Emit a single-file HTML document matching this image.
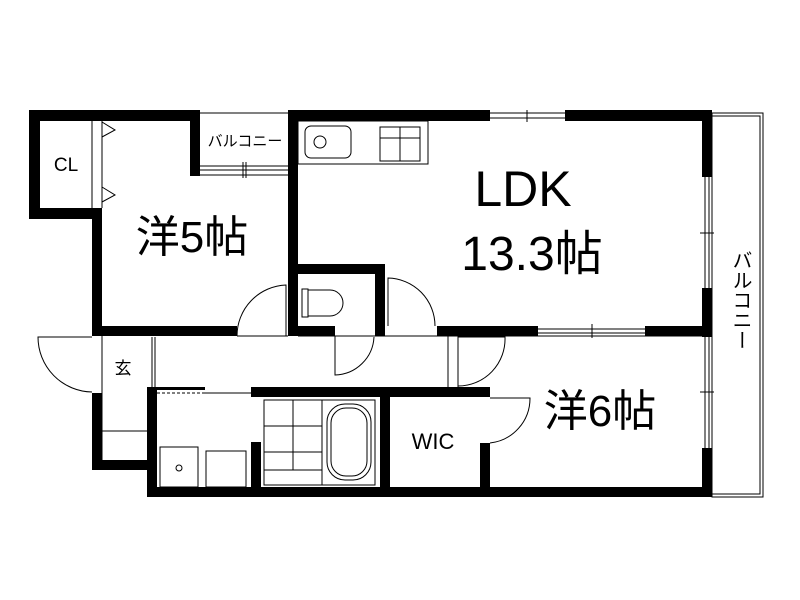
<!DOCTYPE html>
<html><head><meta charset="utf-8"><style>body{margin:0;background:#fff}svg{display:block}</style></head><body>
<svg width="800" height="600" viewBox="0 0 800 600" xmlns="http://www.w3.org/2000/svg" font-family="Liberation Sans, Noto Sans CJK JP, sans-serif">
<rect width="800" height="600" fill="#fff"/>
<g fill="none" stroke="#000" stroke-width="1">
<rect x="712" y="113" width="51" height="384"/><rect x="712" y="116" width="48" height="378"/>
<line x1="200" y1="113" x2="288" y2="113"/><line x1="200" y1="166" x2="288" y2="166"/><line x1="200" y1="170" x2="288" y2="170"/><line x1="200" y1="175" x2="288" y2="175"/>
<line x1="243" y1="162" x2="243" y2="178"/><line x1="246" y1="162" x2="246" y2="178"/>
<line x1="490" y1="113" x2="565" y2="113"/><line x1="490" y1="118" x2="565" y2="118"/><line x1="527" y1="110" x2="527" y2="122"/>
<line x1="705" y1="177" x2="705" y2="288"/><line x1="709" y1="177" x2="709" y2="288"/><line x1="700" y1="233" x2="714" y2="233"/>
<line x1="705" y1="337" x2="705" y2="448"/><line x1="709" y1="337" x2="709" y2="448"/><line x1="700" y1="392" x2="714" y2="392"/>
<line x1="538" y1="329" x2="645" y2="329"/><line x1="538" y1="333" x2="645" y2="333"/><line x1="592" y1="324" x2="592" y2="338"/>
<line x1="92" y1="121" x2="92" y2="208"/><line x1="102" y1="121" x2="102" y2="208"/>
<polyline points="102,122 115,130 102,137"/><polyline points="102,187 115,195 102,202"/>
<path d="M237 336 A51 51 0 0 1 286 285 L286 336"/>
<path d="M335 336 L335 375 A40 40 0 0 0 374 337"/>
<path d="M388 326 L388 278 A48 48 0 0 1 435 326"/>
<path d="M92 337 L38 337 A55 55 0 0 0 92 392"/>
<path d="M458 337 L505 337 A47 47 0 0 1 458 386"/>
<path d="M490 398 L530 398 A45 45 0 0 1 490 443"/>
<line x1="448" y1="336" x2="448" y2="387"/><line x1="458" y1="336" x2="458" y2="387"/>
<line x1="102" y1="336" x2="102" y2="470"/><line x1="102" y1="431" x2="147" y2="431"/>
<line x1="152" y1="337" x2="152" y2="387"/><line x1="155" y1="337" x2="155" y2="387"/>
<line x1="298" y1="336" x2="712" y2="336"/><line x1="385" y1="336" x2="437" y2="336"/><line x1="237" y1="336" x2="288" y2="336"/>
<line x1="157" y1="393" x2="205" y2="393" stroke-dasharray="3,2"/>
<line x1="205" y1="393" x2="251" y2="393"/>
<rect x="298" y="121" width="130" height="43"/>
<rect x="305" y="126" width="46" height="32" rx="6"/><circle cx="320" cy="142" r="6"/>
<rect x="380" y="127" width="40" height="34"/><line x1="380" y1="138" x2="420" y2="138"/><line x1="400" y1="127" x2="400" y2="161"/>
<rect x="302" y="289" width="6" height="28"/><path d="M308 290 H330 A13 13 0 0 1 330 316 H308"/>
<rect x="160" y="447" width="38" height="40"/><circle cx="179" cy="468" r="3"/>
<rect x="206" y="451" width="40" height="36"/>
<rect x="264" y="400" width="111" height="85"/><line x1="322" y1="400" x2="322" y2="485"/>
<line x1="264" y1="426" x2="322" y2="426"/><line x1="264" y1="452" x2="322" y2="452"/><line x1="293" y1="400" x2="293" y2="470"/>
<rect x="327" y="404" width="44" height="76" rx="18"/><rect x="331" y="408" width="36" height="68" rx="15"/>
<line x1="264" y1="470" x2="322" y2="470"/>
</g>
<g fill="#000">
<rect x="29" y="110" width="171" height="11"/>
<rect x="29" y="110" width="11" height="109"/>
<rect x="29" y="208" width="73" height="11"/>
<rect x="92" y="208" width="10" height="128"/>
<rect x="190" y="110" width="10" height="66"/>
<rect x="288" y="110" width="202" height="11"/>
<rect x="565" y="110" width="147" height="11"/>
<rect x="702" y="110" width="10" height="67"/>
<rect x="702" y="288" width="10" height="49"/>
<rect x="702" y="448" width="10" height="49"/>
<rect x="288" y="110" width="10" height="226"/>
<rect x="92" y="326" width="145" height="10"/>
<rect x="288" y="264" width="97" height="10"/>
<rect x="375" y="264" width="10" height="72"/>
<rect x="298" y="326" width="37" height="10"/>
<rect x="437" y="326" width="101" height="10"/>
<rect x="645" y="326" width="67" height="10"/>
<rect x="92" y="393" width="10" height="77"/>
<rect x="92" y="460" width="55" height="10"/>
<rect x="147" y="387" width="10" height="110"/>
<rect x="157" y="387" width="48" height="3"/>
<rect x="251" y="387" width="239" height="10"/>
<rect x="251" y="442" width="10" height="55"/>
<rect x="380" y="387" width="10" height="110"/>
<rect x="480" y="443" width="10" height="54"/>
<rect x="147" y="487" width="565" height="10"/>
</g>
<g fill="#000">
<text x="66" y="171" font-size="19" text-anchor="middle">CL</text>
<text x="192" y="252" font-size="44" text-anchor="middle">洋5帖</text>
<text x="245" y="146" font-size="15" text-anchor="middle">バルコニー</text>
<text x="523" y="206" font-size="50" text-anchor="middle">LDK</text>
<text x="532" y="270" font-size="48" text-anchor="middle">13.3帖</text>
<text x="600" y="426" font-size="44" text-anchor="middle">洋6帖</text>
<text x="433" y="449" font-size="22" text-anchor="middle">WIC</text>
<text x="123" y="374" font-size="17" text-anchor="middle">玄</text>
<text x="740" y="250" font-size="20" text-anchor="start" writing-mode="tb">バルコニー</text>
</g>
</svg>
</body></html>
